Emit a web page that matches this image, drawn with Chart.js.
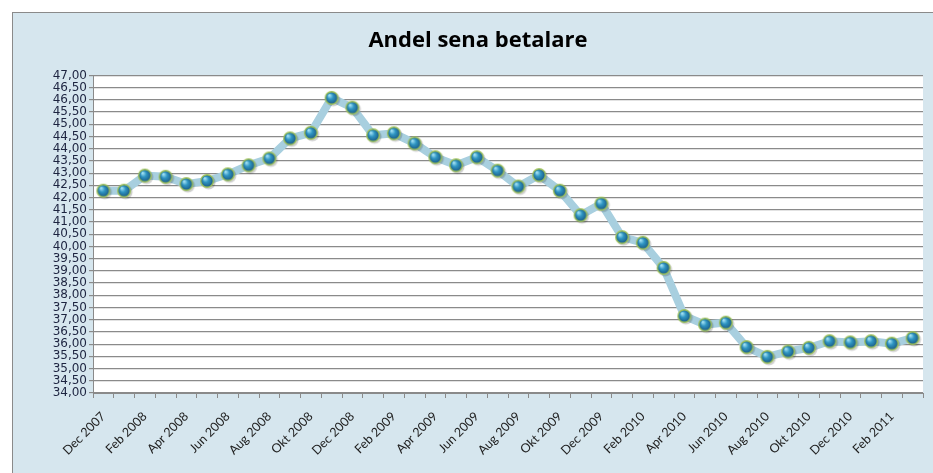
<!DOCTYPE html>
<html>
<head>
<meta charset="utf-8">
<script src="https://cdn.jsdelivr.net/npm/chart.js@4"></script>
<style>
html, body { margin: 0; padding: 0; background: #fff; overflow: hidden; }
canvas { display: block; }
</style>
</head>
<body>
<canvas id="chart" width="933" height="473"></canvas>
<script>
// one value per month, Dec 2007 - Mar 2011
const months = [
    "Dec 2007",
    "Jan 2008", "Feb 2008", "Mar 2008", "Apr 2008", "Maj 2008", "Jun 2008",
    "Jul 2008", "Aug 2008", "Sep 2008", "Okt 2008", "Nov 2008", "Dec 2008",
    "Jan 2009", "Feb 2009", "Mar 2009", "Apr 2009", "Maj 2009", "Jun 2009",
    "Jul 2009", "Aug 2009", "Sep 2009", "Okt 2009", "Nov 2009", "Dec 2009",
    "Jan 2010", "Feb 2010", "Mar 2010", "Apr 2010", "Maj 2010", "Jun 2010",
    "Jul 2010", "Aug 2010", "Sep 2010", "Okt 2010", "Nov 2010", "Dec 2010",
    "Jan 2011", "Feb 2011", "Mar 2011"
];
const andel = [
    42.28,
    42.28, 42.90, 42.85, 42.55, 42.68, 42.95,
    43.32, 43.60, 44.42, 44.65, 46.08, 45.68,
    44.55, 44.63, 44.22, 43.65, 43.32, 43.65,
    43.10, 42.45, 42.92, 42.28, 41.28, 41.75,
    40.38, 40.15, 39.12, 37.15, 36.80, 36.88,
    35.88, 35.48, 35.70, 35.85, 36.12, 36.07,
    36.12, 36.02, 36.25
];
const yMin = 34;
const yMax = 47;
const yStep = 0.5;
const title = "Andel sena betalare";

const gridColor = "#8a8a8a";
const labelColor = "#1d2440";

// little shaded ball used as marker
function makeBall(r) {
    const size = Math.ceil(r * 2 + 6);
    const c = document.createElement("canvas");
    c.width = size;
    c.height = size;
    const g = c.getContext("2d");
    const cx = size / 2, cy = size / 2;

    g.fillStyle = "rgba(0,0,0,0.18)";
    g.beginPath();
    g.arc(cx + 1.5, cy + 1.5, r, 0, Math.PI * 2);
    g.fill();

    g.fillStyle = "#9cc05a";
    g.beginPath();
    g.arc(cx, cy, r, 0, Math.PI * 2);
    g.fill();

    const grad = g.createRadialGradient(cx - r * 0.35, cy - r * 0.4, 0.5, cx, cy, r - 1.2);
    grad.addColorStop(0, "#a6e3f6");
    grad.addColorStop(0.45, "#2f96c3");
    grad.addColorStop(1, "#1b5d88");
    g.fillStyle = grad;
    g.beginPath();
    g.arc(cx, cy, r - 1.4, 0, Math.PI * 2);
    g.fill();
    return c;
}

const background = {
    id: "background",
    beforeDraw(chart) {
        const ctx = chart.ctx;
        const a = chart.chartArea;
        ctx.save();
        ctx.fillStyle = "#d6e6ee";
        ctx.fillRect(12, 12, chart.width + 20, chart.height + 20);
        ctx.strokeStyle = "#8a8a8a";
        ctx.lineWidth = 1;
        ctx.strokeRect(12.5, 12.5, chart.width + 20, chart.height + 20);
        ctx.fillStyle = "#fff";
        ctx.fillRect(a.left, a.top, a.right - a.left, a.bottom - a.top);
        ctx.restore();
    }
};

const ctx = document.getElementById("chart").getContext("2d");
const chart = new Chart(ctx, {
    type: "line",
    data: {
        labels: months,
        datasets: [{
            label: title,
            data: andel,
            borderColor: "#a8cfdf",
            borderWidth: 8,
            tension: 0,
            pointStyle: makeBall(7),
            pointRadius: 7
        }]
    },
    options: {
        responsive: false,
        animation: false,
        layout: {
            autoPadding: false,
            padding: { left: 33, right: 10, top: 0, bottom: 0 }
        },
        plugins: {
            legend: { display: false },
            tooltip: { enabled: false },
            title: {
                display: true,
                text: title,
                color: "#000",
                font: { family: "'Open Sans'", size: 22, weight: "bold" },
                padding: { top: 28, bottom: 21 }
            }
        },
        scales: {
            x: {
                offset: true,
                grid: {
                    offset: true,
                    drawOnChartArea: false,
                    drawTicks: true,
                    tickLength: 5,
                    color: gridColor
                },
                border: { color: gridColor },
                ticks: {
                    autoSkip: false,
                    maxRotation: 45,
                    minRotation: 45,
                    padding: 11,
                    color: "#222",
                    font: { family: "Lato", size: 12.5 },
                    callback: (v, i) => i % 2 === 0 ? months[i] : ""
                },
                afterFit: s => {
                    s.height = 80;
                    s.paddingRight = 0;
                }
            },
            y: {
                min: yMin,
                max: yMax,
                grid: { color: gridColor, tickLength: 4, lineWidth: 1.2 },
                border: { color: gridColor },
                ticks: {
                    autoSkip: false,
                    stepSize: yStep,
                    padding: 2,
                    color: labelColor,
                    font: { family: "'DejaVu Sans'", size: 12, lineHeight: 1 },
                    callback: v => v.toFixed(2).replace(".", ",")
                },
                afterFit: s => { s.width = 60; }
            }
        }
    },
    plugins: [background]
});
</script>
</body>
</html>
